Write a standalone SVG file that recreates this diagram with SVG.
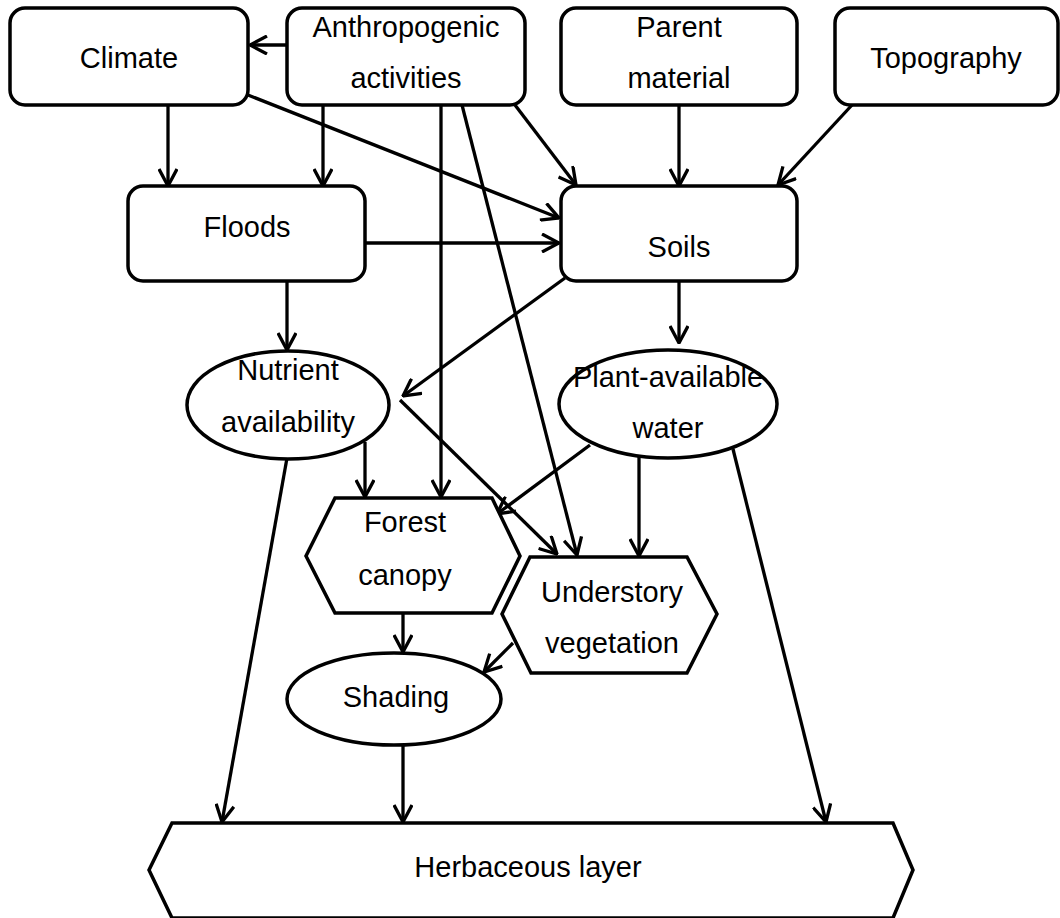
<svg xmlns="http://www.w3.org/2000/svg" width="1060" height="918" viewBox="0 0 1060 918">
<style>
.n{fill:#fff;stroke:#000;stroke-width:3.5}
.t{font-family:"Liberation Sans",Arial,sans-serif;font-size:29px;fill:#000;text-anchor:middle}
.c line{stroke:#000;stroke-width:3.3;marker-end:url(#a)}
</style>
<defs>
<marker id="a" viewBox="0 0 20 20" refX="19" refY="10" markerWidth="20" markerHeight="20" markerUnits="userSpaceOnUse" orient="auto">
<path d="M2,1 L19,10 L2,19" fill="none" stroke="#000" stroke-width="3.3"/>
</marker>
</defs>
<rect width="1060" height="918" fill="#fff"/>
<g class="c" id="connectors">
<line x1="287" y1="45" x2="250" y2="45"/>
<line x1="168" y1="105" x2="168" y2="186"/>
<line x1="323" y1="105" x2="323" y2="186"/>
<line x1="248" y1="95" x2="559" y2="218"/>
<line x1="441" y1="105" x2="441" y2="497"/>
<line x1="462" y1="105" x2="577" y2="555"/>
<line x1="515" y1="105" x2="576" y2="185"/>
<line x1="679" y1="105" x2="679" y2="186"/>
<line x1="852" y1="105" x2="778" y2="185"/>
<line x1="365" y1="243" x2="559" y2="243"/>
<line x1="565" y1="278" x2="403" y2="396"/>
<line x1="287" y1="281" x2="287" y2="350"/>
<line x1="679" y1="281" x2="679" y2="343"/>
<line x1="365" y1="442" x2="365" y2="497"/>
<line x1="400" y1="400" x2="557" y2="554"/>
<line x1="590" y1="445" x2="497" y2="514"/>
<line x1="639" y1="456" x2="639" y2="556"/>
<line x1="287" y1="458" x2="222" y2="822"/>
<line x1="733" y1="449" x2="826" y2="822"/>
<line x1="403" y1="613" x2="403" y2="652"/>
<line x1="513" y1="643" x2="484" y2="672"/>
<line x1="403" y1="745" x2="403" y2="822"/>
</g>
<g id="climate"><rect class="n" x="10" y="8" width="238" height="97" rx="15"/><text class="t" x="129" y="68">Climate</text></g>
<g id="anthropogenic"><rect class="n" x="287" y="8" width="238" height="97" rx="15"/><text class="t" x="406" y="37">Anthropogenic</text><text class="t" x="406" y="88">activities</text></g>
<g id="parent"><rect class="n" x="561" y="8" width="236" height="97" rx="15"/><text class="t" x="679" y="37">Parent</text><text class="t" x="679" y="88">material</text></g>
<g id="topography"><rect class="n" x="835" y="8" width="223" height="97" rx="15"/><text class="t" x="946" y="68">Topography</text></g>
<g id="floods"><rect class="n" x="128" y="186" width="237" height="95" rx="15"/><text class="t" x="247" y="237">Floods</text></g>
<g id="soils"><rect class="n" x="561" y="186" width="236" height="95" rx="15"/><text class="t" x="679" y="257">Soils</text></g>
<g id="nutrient"><ellipse class="n" cx="288" cy="405" rx="101" ry="54"/><text class="t" x="288" y="380">Nutrient</text><text class="t" x="288" y="432">availability</text></g>
<g id="water"><ellipse class="n" cx="668" cy="404" rx="109" ry="54"/><text class="t" x="668" y="387">Plant-available</text><text class="t" x="668" y="438">water</text></g>
<g id="canopy"><polygon class="n" points="335,498 492,498 520,556 492,613 335,613 306,556"/><text class="t" x="405" y="532">Forest</text><text class="t" x="405" y="585">canopy</text></g>
<g id="understory"><polygon class="n" points="530,557 687,557 717,614 687,673 531,673 502,614"/><text class="t" x="612" y="602">Understory</text><text class="t" x="612" y="653">vegetation</text></g>
<g id="shading"><ellipse class="n" cx="394" cy="699" rx="107" ry="46"/><text class="t" x="396" y="707">Shading</text></g>
<g id="herbaceous"><polygon class="n" points="172,823 893,823 913,870 893,918 172,918 149,870"/><text class="t" x="528" y="877">Herbaceous layer</text></g>
</svg>
